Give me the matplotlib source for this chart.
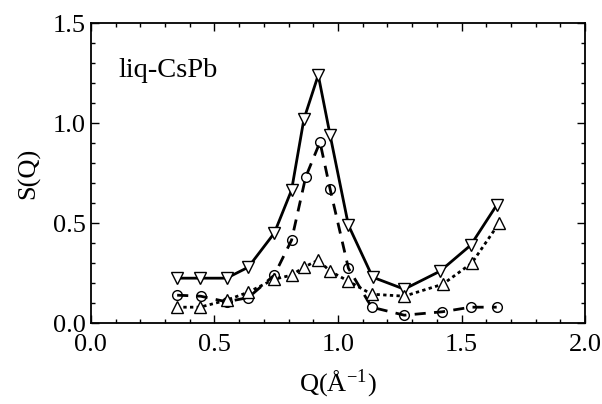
import matplotlib
matplotlib.use("Agg")
import matplotlib.pyplot as plt
from matplotlib.ticker import MultipleLocator

plt.rcParams['font.family'] = ['Liberation Serif', 'DejaVu Serif']
plt.rcParams['mathtext.fontset'] = 'stix'

# Down triangles (solid)
q_down = [0.347, 0.441, 0.549, 0.637, 0.742, 0.812, 0.862, 0.920, 0.968, 1.042, 1.140, 1.268, 1.413, 1.537, 1.642]
s_down = [0.225, 0.225, 0.225, 0.28, 0.45, 0.665, 1.02, 1.24, 0.94, 0.49, 0.23, 0.17, 0.26, 0.39, 0.59]

# Circles (dashed)
q_circ = [0.349, 0.444, 0.549, 0.637, 0.742, 0.812, 0.869, 0.927, 0.968, 1.042, 1.136, 1.268, 1.422, 1.537, 1.642]
s_circ = [0.14, 0.135, 0.107, 0.128, 0.24, 0.415, 0.73, 0.905, 0.67, 0.275, 0.08, 0.04, 0.057, 0.08, 0.08]

# Up triangles (dotted)
q_up = [0.347, 0.441, 0.549, 0.637, 0.742, 0.812, 0.862, 0.920, 0.968, 1.042, 1.136, 1.268, 1.424, 1.541, 1.652]
s_up = [0.08, 0.08, 0.115, 0.155, 0.22, 0.24, 0.28, 0.315, 0.26, 0.21, 0.145, 0.135, 0.195, 0.30, 0.50]

fig = plt.figure(figsize=(6.02, 4.04), dpi=100)
ax = fig.add_axes([0.151, 0.200, 0.821, 0.743])

ax.plot(q_down, s_down, '-', color='black', lw=2.0, marker='v', ms=8,
        mfc='white', mec='black', mew=1.0)
ax.plot(q_circ, s_circ, color='black', lw=2.0, ls=(0, (4, 3)), marker='o', ms=7,
        mfc='none', mec='black', mew=1.0)
ax.plot(q_up, s_up, color='black', lw=2.0, ls=(0, (1.2, 1.2)), marker='^', ms=8,
        mfc='white', mec='black', mew=1.0)

ax.set_xlim(0.0, 2.0)
ax.set_ylim(0.0, 1.5)
ax.xaxis.set_major_locator(MultipleLocator(0.5))
ax.xaxis.set_minor_locator(MultipleLocator(0.1))
ax.yaxis.set_major_locator(MultipleLocator(0.5))
ax.yaxis.set_minor_locator(MultipleLocator(0.1))
ax.xaxis.set_major_formatter(matplotlib.ticker.FormatStrFormatter('%.1f'))
ax.yaxis.set_major_formatter(matplotlib.ticker.FormatStrFormatter('%.1f'))
ax.tick_params(which='both', direction='in', top=True, right=True, labelsize=19, width=1.0)
ax.tick_params(which='major', length=6)
ax.tick_params(which='minor', length=3)
ax.tick_params(axis='x', pad=8)
for sp in ax.spines.values():
    sp.set_linewidth(1.3)

ax.text(0.055, 0.82, 'liq-CsPb', transform=ax.transAxes, fontsize=20.5, va='baseline', ha='left')
ax.set_ylabel('S(Q)', fontsize=19, labelpad=9)
ax.set_xlabel(r'Q(Å$^{\mathregular{-1}}$)', fontsize=19, labelpad=8)

fig.savefig('out.png', dpi=100)
